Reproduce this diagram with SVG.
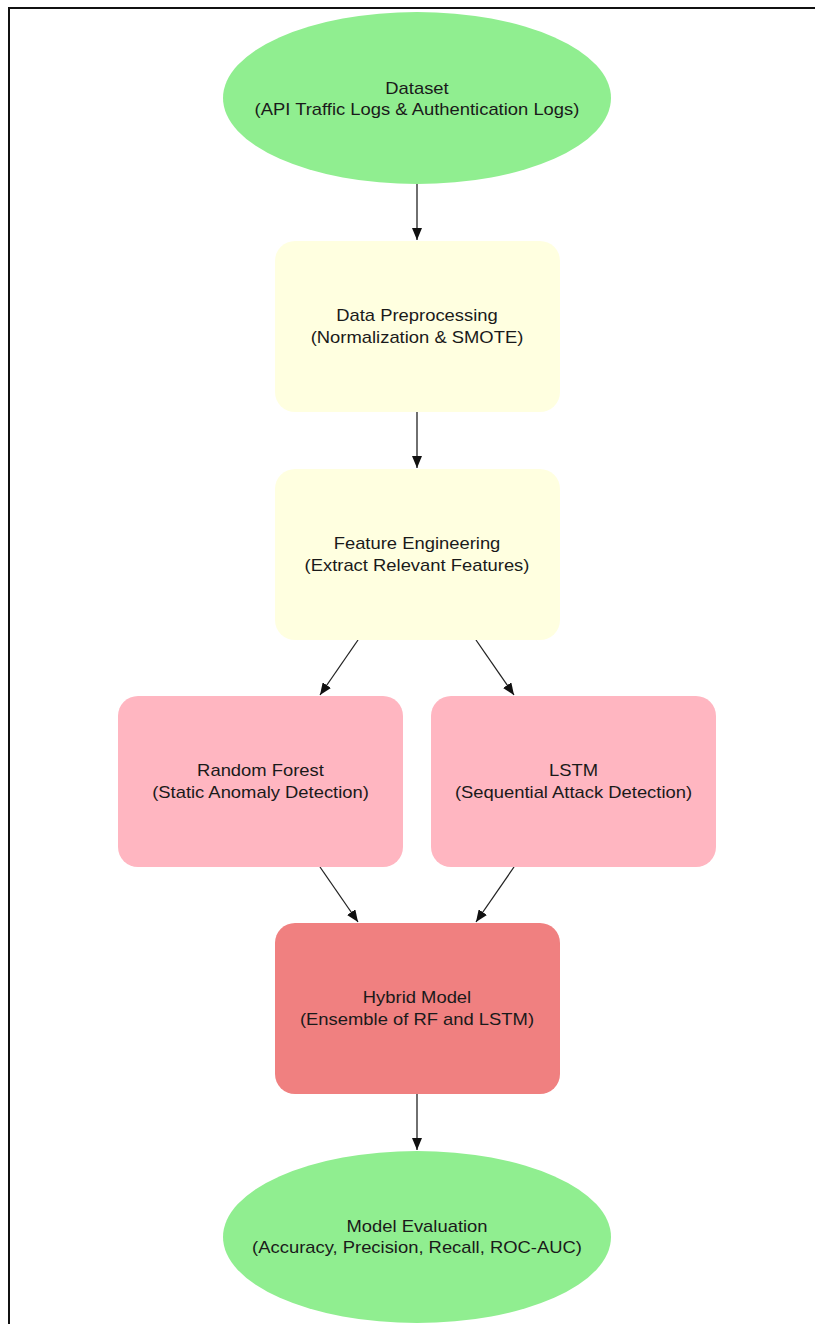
<svg xmlns="http://www.w3.org/2000/svg" width="815" height="1324" viewBox="0 0 815 1324">
<defs>
<style>
.t{font-family:"Liberation Sans",Arial,sans-serif;font-size:16px;fill:#1a1a1a;text-anchor:middle}
.green{fill:#90EE90}
.yellow{fill:#FFFFE0}
.pink{fill:#FFB6C1}
.coral{fill:#F08080}
.edge{stroke:#222;stroke-width:1.3;fill:none;marker-end:url(#ah)}
</style>
<marker id="ah" viewBox="0 0 12 10" refX="12" refY="5" markerWidth="12" markerHeight="10" markerUnits="userSpaceOnUse" orient="auto">
<path d="M0,0 L12,5 L0,10 z" fill="#111"/>
</marker>
</defs>
<rect x="0" y="0" width="815" height="1324" fill="#fff"/>
<rect x="9" y="8" width="820" height="1330" fill="none" stroke="#111" stroke-width="2"/>
<g id="connectors">
<line class="edge" x1="417" y1="184" x2="417" y2="240"/>
<line class="edge" x1="417" y1="412" x2="417" y2="468"/>
<line class="edge" x1="358" y1="640" x2="320" y2="695"/>
<line class="edge" x1="476" y1="640" x2="514" y2="695"/>
<line class="edge" x1="320" y1="867" x2="358" y2="922"/>
<line class="edge" x1="514" y1="867" x2="476" y2="922"/>
<line class="edge" x1="417" y1="1094" x2="417" y2="1150"/>
</g>
<g id="dataset">
<ellipse class="green" cx="417" cy="98" rx="194" ry="86"/>
<g transform="translate(417,0) scale(1.15,1)">
<text class="t" x="0" y="94">Dataset</text>
<text class="t" x="0" y="115">(API Traffic Logs &amp; Authentication Logs)</text>
</g>
</g>
<g id="preprocessing">
<rect class="yellow" x="275" y="241" width="285" height="171" rx="20"/>
<g transform="translate(417,0) scale(1.15,1)">
<text class="t" x="0" y="321">Data Preprocessing</text>
<text class="t" x="0" y="343">(Normalization &amp; SMOTE)</text>
</g>
</g>
<g id="features">
<rect class="yellow" x="275" y="469" width="285" height="171" rx="20"/>
<g transform="translate(417,0) scale(1.15,1)">
<text class="t" x="0" y="549">Feature Engineering</text>
<text class="t" x="0" y="571">(Extract Relevant Features)</text>
</g>
</g>
<g id="rf">
<rect class="pink" x="118" y="696" width="285" height="171" rx="20"/>
<g transform="translate(260.5,0) scale(1.15,1)">
<text class="t" x="0" y="776">Random Forest</text>
<text class="t" x="0" y="798">(Static Anomaly Detection)</text>
</g>
</g>
<g id="lstm">
<rect class="pink" x="431" y="696" width="285" height="171" rx="20"/>
<g transform="translate(573.5,0) scale(1.15,1)">
<text class="t" x="0" y="776">LSTM</text>
<text class="t" x="0" y="798">(Sequential Attack Detection)</text>
</g>
</g>
<g id="hybrid">
<rect class="coral" x="275" y="923" width="285" height="171" rx="20"/>
<g transform="translate(417,0) scale(1.15,1)">
<text class="t" x="0" y="1003">Hybrid Model</text>
<text class="t" x="0" y="1025">(Ensemble of RF and LSTM)</text>
</g>
</g>
<g id="evaluation">
<ellipse class="green" cx="417" cy="1237" rx="194" ry="86"/>
<g transform="translate(417,0) scale(1.15,1)">
<text class="t" x="0" y="1232">Model Evaluation</text>
<text class="t" x="0" y="1253">(Accuracy, Precision, Recall, ROC-AUC)</text>
</g>
</g>
</svg>
